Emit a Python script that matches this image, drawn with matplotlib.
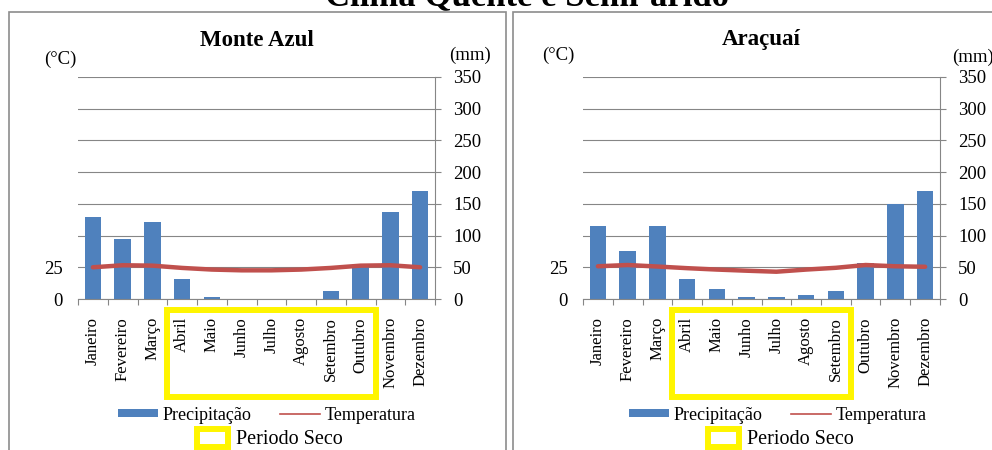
# Clima de Monte Azul e Araçuaí - precipitação e temperatura mensal
import numpy as np
import matplotlib.pyplot as plt
from matplotlib.patches import Rectangle, Patch
from matplotlib.lines import Line2D
from matplotlib.transforms import blended_transform_factory

plt.rcParams['font.family'] = ['Liberation Serif', 'DejaVu Serif']

months = ['Janeiro', 'Fevereiro', 'Março', 'Abril', 'Maio', 'Junho',
          'Julho', 'Agosto', 'Setembro', 'Outubro', 'Novembro', 'Dezembro']

# Monte Azul (mm / °C)
prec_monte_azul = [129, 95, 122, 31, 3, 0, 0, 0.5, 13, 51, 137, 171]
temp_monte_azul = [25.0, 26.6, 26.3, 24.5, 23.2, 22.6, 22.6, 23.2, 24.5, 26.3, 26.6, 25.0]
seco_monte_azul = ('Abril', 'Outubro')

# Araçuaí (mm / °C)
prec_aracuai = [115, 76, 115, 31, 16, 3.5, 3.5, 6, 13, 57, 150, 171]
temp_aracuai = [25.8, 26.8, 25.6, 24.3, 23.2, 22.3, 21.5, 23.2, 24.6, 26.8, 25.8, 25.4]
seco_aracuai = ('Abril', 'Setembro')

BLUE = '#4F81BD'
RED = '#C0504D'
GRID = '#868686'
YELLOW = '#FFF500'

W, H = 992, 450


def fx(px):
    return px / W


def fy(py):
    return 1 - py / H


fig = plt.figure(figsize=(W / 100, H / 100), dpi=100)

# caixas cinzas dos dois quadros
fig.add_artist(Rectangle((fx(9), fy(470)), fx(506) - fx(9), fy(12) - fy(470),
                         transform=fig.transFigure, fill=False, edgecolor='#8c8c8c', lw=1.2))
fig.add_artist(Rectangle((fx(513), fy(470)), fx(1010) - fx(513), fy(12) - fy(470),
                         transform=fig.transFigure, fill=False, edgecolor='#8c8c8c', lw=1.2))

# titulo geral (cortado no topo, como no original)
fig.text(fx(527), fy(5), 'Clima Quente e Semi-árido', ha='center', va='baseline',
         fontsize=25, weight='bold')


def painel(left_px, titulo, prec, temp, seco, c_pos, mm_pos, leg_x):
    ax = fig.add_axes([fx(left_px), fy(299), 357 / W, 222 / H])
    ax2 = ax.twinx()
    x = np.arange(len(months))

    ax.bar(x, prec, width=0.56, color=BLUE, zorder=2)
    ax.set_xlim(-0.5, 11.5)
    ax.set_ylim(0, 350)
    ax.set_yticks(range(0, 351, 50))
    ax.yaxis.tick_right()
    ax.grid(axis='y', color=GRID, lw=0.8)
    ax.set_axisbelow(True)
    for s in ['top', 'left']:
        ax.spines[s].set_visible(False)
    for s in ['right', 'bottom']:
        ax.spines[s].set_color(GRID)
        ax.spines[s].set_linewidth(0.8)
    ax.set_xticks(x)
    ax.set_xticklabels(months, rotation=90, fontsize=12)
    ax.set_xticks(np.arange(-0.5, 12, 1), minor=True)
    ax.tick_params(axis='x', which='major', length=0, pad=13)
    ax.tick_params(axis='x', which='minor', length=4, color=GRID, width=0.8)
    ax.tick_params(axis='y', length=4, color=GRID, width=0.8, pad=9, labelsize=13.5)

    ax2.plot(x, temp, color=RED, lw=3.2, solid_joinstyle='round', solid_capstyle='round')
    ax2.set_ylim(0, 175)
    ax2.set_yticks([0, 25])
    ax2.yaxis.tick_left()
    ax2.tick_params(axis='y', length=0, pad=11, labelsize=13.5)
    for s in ax2.spines.values():
        s.set_visible(False)

    # periodo seco
    i0, i1 = months.index(seco[0]), months.index(seco[1])
    tr = blended_transform_factory(ax.transData, fig.transFigure)
    ax.add_patch(Rectangle((i0 - 0.5, fy(397)), i1 - i0 + 1, fy(310) - fy(397),
                           transform=tr, fill=False, edgecolor=YELLOW, lw=4.3,
                           clip_on=False))

    cx = left_px + 357 / 2
    fig.text(fx(cx), fy(40), titulo, ha='center', va='center', fontsize=16.5, weight='bold')
    fig.text(fx(c_pos[0]), fy(c_pos[1]), '(°C)', ha='center', va='center', fontsize=13.5)
    fig.text(fx(mm_pos[0]), fy(mm_pos[1]), '(mm)', ha='center', va='center', fontsize=13.5)

    h1 = [Patch(facecolor=BLUE, edgecolor='none'),
          Line2D([], [], color=RED, lw=1.2)]
    fig.legend(h1, ['Precipitação', 'Temperatura'], loc='center', ncol=2,
               bbox_to_anchor=(fx(leg_x), fy(415)), bbox_transform=fig.transFigure,
               frameon=False, fontsize=13, handlelength=2.2, handleheight=0.3,
               handletextpad=0.25, columnspacing=1.6, borderpad=0)
    h2 = [Patch(facecolor='white', edgecolor=YELLOW, lw=4.3)]
    fig.legend(h2, ['Periodo Seco'], loc='center',
               bbox_to_anchor=(fx(leg_x + 3), fy(439)), bbox_transform=fig.transFigure,
               frameon=False, fontsize=14.5, handlelength=1.5, handleheight=1.0,
               handletextpad=0.4, borderpad=0)
    return ax


painel(78, 'Monte Azul', prec_monte_azul, temp_monte_azul, seco_monte_azul,
       (60, 59), (470, 55), 267)
painel(583, 'Araçuaí', prec_aracuai, temp_aracuai, seco_aracuai,
       (558, 55), (973, 57), 778)

fig.savefig('out.png', dpi=100)
